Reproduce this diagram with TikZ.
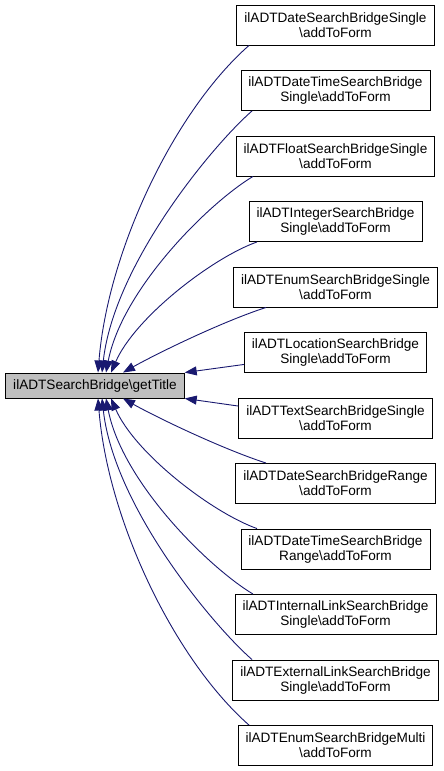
\documentclass[tikz,border=0pt]{standalone}
\usepackage{fontspec}
\setmainfont{Liberation Sans}
\usetikzlibrary{positioning,arrows.meta}
\definecolor{cEdge}{HTML}{191970}
\definecolor{cCur} {HTML}{BFBFBF}
\tikzset{
  >={Triangle[length=12pt,width=9pt]},
  fbox/.style={draw=black,line width=0.9pt,align=center,inner xsep=7.5pt,
               minimum height=40pt,font=\fontsize{13.6}{15}\selectfont},
  fcur/.style={fbox,fill=cCur,minimum height=25pt},
  fcall/.style={->,line width=0.9pt,cEdge},
}
\begin{document}
\begin{tikzpicture}[x=1pt,y=-1pt,node distance=24.6pt]
  \useasboundingbox (0,0) rectangle (444,771);
  \node[fcur] (gt) at (95,385.5) {ilADTSearchBridge\textbackslash getTitle};
  % callers
  \node[fbox] (dS) at (335.5,25) {ilADTDateSearchBridgeSingle\\\textbackslash addToForm};
  \node[fbox,below=of dS]  (dtS) {ilADTDateTimeSearchBridge\\Single\textbackslash addToForm};
  \node[fbox,below=of dtS] (fS)  {ilADTFloatSearchBridgeSingle\\\textbackslash addToForm};
  \node[fbox,below=of fS]  (iS)  {ilADTIntegerSearchBridge\\Single\textbackslash addToForm};
  \node[fbox,below=of iS]  (eS)  {ilADTEnumSearchBridgeSingle\\\textbackslash addToForm};
  \node[fbox,below=of eS]  (lS)  {ilADTLocationSearchBridge\\Single\textbackslash addToForm};
  \node[fbox,below=of lS]  (tS)  {ilADTTextSearchBridgeSingle\\\textbackslash addToForm};
  \node[fbox,below=of tS]  (dR)  {ilADTDateSearchBridgeRange\\\textbackslash addToForm};
  \node[fbox,below=of dR]  (dtR) {ilADTDateTimeSearchBridge\\Range\textbackslash addToForm};
  \node[fbox,below=of dtR] (ilS) {ilADTInternalLinkSearchBridge\\Single\textbackslash addToForm};
  \node[fbox,below=of ilS] (elS) {ilADTExternalLinkSearchBridge\\Single\textbackslash addToForm};
  \node[fbox,below=of elS] (eM)  {ilADTEnumSearchBridgeMulti\\\textbackslash addToForm};
  % calls
  \draw[fcall] ([xshift=-86.5pt]dS.south)  .. controls +(-74,65) and +(10,-123) .. ([xshift=3pt]gt.north);
  \draw[fcall] ([xshift=-83.5pt]dtS.south) .. controls +(-40,35) and +(12,-108) .. ([xshift=7pt]gt.north);
  \draw[fcall] ([xshift=-82.5pt]fS.south)  .. controls +(-45,27) and +(16,-83) .. ([xshift=11pt]gt.north);
  \draw[fcall] ([xshift=-78.5pt]iS.south)  .. controls +(-45,16) and +(24,-55) .. ([xshift=16pt]gt.north);
  \draw[fcall] ([xshift=-69.5pt]eS.south)  .. controls +(-46,15) and +(32,-18) .. ([xshift=28pt]gt.north);
  \draw[fcall] ([yshift=8.5pt]lS.south west) -- (gt.north east);
  \draw[fcall] ([yshift=-8.5pt]tS.north west) -- (gt.south east);
  \draw[fcall] ([xshift=-69.5pt]dR.north)  .. controls +(-46,-15) and +(32,18) .. ([xshift=28pt]gt.south);
  \draw[fcall] ([xshift=-78.5pt]dtR.north) .. controls +(-45,-16) and +(24,55) .. ([xshift=16pt]gt.south);
  \draw[fcall] ([xshift=-82.5pt]ilS.north) .. controls +(-45,-27) and +(16,83) .. ([xshift=11pt]gt.south);
  \draw[fcall] ([xshift=-83.5pt]elS.north) .. controls +(-40,-35) and +(12,108) .. ([xshift=7pt]gt.south);
  \draw[fcall] ([xshift=-86.5pt]eM.north)  .. controls +(-74,-65) and +(10,123) .. ([xshift=3pt]gt.south);
\end{tikzpicture}
\end{document}
